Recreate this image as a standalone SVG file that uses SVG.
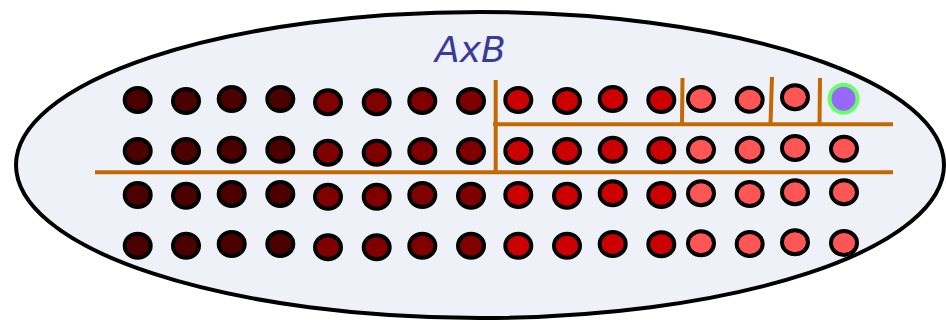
<svg xmlns="http://www.w3.org/2000/svg" width="946" height="323" viewBox="0 0 946 323">
<style>
.dot{stroke:#000;stroke-width:4}
.c1{fill:#4d0000}.c2{fill:#800000}.c3{fill:#cc0000}.c4{fill:#ff5555}
.ln{stroke:#c46800;stroke-width:4;fill:none}
</style>
<g id="set">
<ellipse cx="480" cy="165" rx="464" ry="153" fill="#eef2f8" stroke="#000" stroke-width="4"/>
<text x="435" y="62" font-family="DejaVu Sans, sans-serif" font-style="italic" font-size="36" fill="#3a3a9c">AxB</text>
</g>
<g id="connectors">
<line class="ln" x1="95" y1="172.3" x2="893" y2="172.3"/>
<line class="ln" x1="493" y1="124.3" x2="893" y2="124.3"/>
<line class="ln" x1="495.7" y1="80" x2="495.7" y2="172"/>
<line class="ln" x1="682.5" y1="78" x2="682" y2="124"/>
<line class="ln" x1="772" y1="77" x2="770.5" y2="124"/>
<line class="ln" x1="820" y1="78" x2="819.5" y2="124"/>
</g>
<g id="dots">
<g class="c1">
<ellipse class="dot" cx="137.7" cy="100" rx="13" ry="12"/><ellipse class="dot" cx="137.7" cy="151" rx="13" ry="12"/><ellipse class="dot" cx="137.7" cy="195" rx="13" ry="12"/><ellipse class="dot" cx="137.7" cy="245.7" rx="13" ry="12"/>
<ellipse class="dot" cx="186" cy="101" rx="13" ry="12"/><ellipse class="dot" cx="186" cy="151" rx="13" ry="12"/><ellipse class="dot" cx="186" cy="195.7" rx="13" ry="12"/><ellipse class="dot" cx="186" cy="245.7" rx="13" ry="12"/>
<ellipse class="dot" cx="231.7" cy="99" rx="13" ry="12"/><ellipse class="dot" cx="231.7" cy="149.7" rx="13" ry="12"/><ellipse class="dot" cx="231.7" cy="194" rx="13" ry="12"/><ellipse class="dot" cx="231.7" cy="244" rx="13" ry="12"/>
<ellipse class="dot" cx="280.3" cy="99" rx="13" ry="12"/><ellipse class="dot" cx="280.3" cy="149.7" rx="13" ry="12"/><ellipse class="dot" cx="280.3" cy="194" rx="13" ry="12"/><ellipse class="dot" cx="280.3" cy="244" rx="13" ry="12"/>
</g>
<g class="c2">
<ellipse class="dot" cx="328" cy="102.3" rx="13" ry="12"/><ellipse class="dot" cx="328" cy="152.7" rx="13" ry="12"/><ellipse class="dot" cx="328" cy="196.7" rx="13" ry="12"/><ellipse class="dot" cx="328" cy="247.3" rx="13" ry="12"/>
<ellipse class="dot" cx="376.7" cy="102.3" rx="13" ry="12"/><ellipse class="dot" cx="376.7" cy="152.7" rx="13" ry="12"/><ellipse class="dot" cx="376.7" cy="196.7" rx="13" ry="12"/><ellipse class="dot" cx="376.7" cy="247.3" rx="13" ry="12"/>
<ellipse class="dot" cx="422.3" cy="101" rx="13" ry="12"/><ellipse class="dot" cx="422.3" cy="151" rx="13" ry="12"/><ellipse class="dot" cx="422.3" cy="195" rx="13" ry="12"/><ellipse class="dot" cx="422.3" cy="245.7" rx="13" ry="12"/>
<ellipse class="dot" cx="471" cy="101" rx="13" ry="12"/><ellipse class="dot" cx="471" cy="151" rx="13" ry="12"/><ellipse class="dot" cx="471" cy="195.7" rx="13" ry="12"/><ellipse class="dot" cx="471" cy="245.7" rx="13" ry="12"/>
</g>
<g class="c3">
<ellipse class="dot" cx="518.3" cy="100" rx="13" ry="12"/><ellipse class="dot" cx="518.3" cy="151" rx="13" ry="12"/><ellipse class="dot" cx="518.3" cy="195" rx="13" ry="12"/><ellipse class="dot" cx="518.3" cy="245.7" rx="13" ry="12"/>
<ellipse class="dot" cx="567" cy="101" rx="13" ry="12"/><ellipse class="dot" cx="567" cy="151" rx="13" ry="12"/><ellipse class="dot" cx="567" cy="195.7" rx="13" ry="12"/><ellipse class="dot" cx="567" cy="245.7" rx="13" ry="12"/>
<ellipse class="dot" cx="612.7" cy="99" rx="13" ry="12"/><ellipse class="dot" cx="612.7" cy="149.7" rx="13" ry="12"/><ellipse class="dot" cx="612.7" cy="193.3" rx="13" ry="12"/><ellipse class="dot" cx="612.7" cy="244" rx="13" ry="12"/>
<ellipse class="dot" cx="661.3" cy="100" rx="13" ry="12"/><ellipse class="dot" cx="661.3" cy="150.3" rx="13" ry="12"/><ellipse class="dot" cx="661.3" cy="195" rx="13" ry="12"/><ellipse class="dot" cx="661.3" cy="244.3" rx="13" ry="12"/>
</g>
<g class="c4">
<ellipse class="dot" cx="701" cy="99" rx="13" ry="12"/><ellipse class="dot" cx="701" cy="149.7" rx="13" ry="12"/><ellipse class="dot" cx="701" cy="193.3" rx="13" ry="12"/><ellipse class="dot" cx="701" cy="243.3" rx="13" ry="12"/>
<ellipse class="dot" cx="749.7" cy="99.7" rx="13" ry="12"/><ellipse class="dot" cx="749.7" cy="149.7" rx="13" ry="12"/><ellipse class="dot" cx="749.7" cy="194" rx="13" ry="12"/><ellipse class="dot" cx="749.7" cy="244" rx="13" ry="12"/>
<ellipse class="dot" cx="795" cy="97.3" rx="13" ry="12"/><ellipse class="dot" cx="795" cy="148" rx="13" ry="12"/><ellipse class="dot" cx="795" cy="192.3" rx="13" ry="12"/><ellipse class="dot" cx="795" cy="242.3" rx="13" ry="12"/>
<ellipse class="dot" cx="844" cy="148.7" rx="13" ry="12"/><ellipse class="dot" cx="844" cy="192.3" rx="13" ry="12"/><ellipse class="dot" cx="844" cy="243" rx="13" ry="12"/>
</g>
<ellipse cx="843.5" cy="98.7" rx="14" ry="14" fill="#9966ff" stroke="#66ff66" stroke-width="4"/>
</g>
</svg>
